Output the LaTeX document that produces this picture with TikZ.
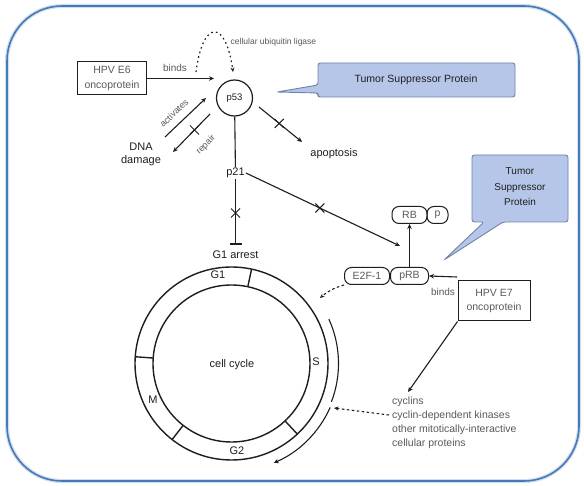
\documentclass[tikz,border=0pt]{standalone}
\usepackage{fontspec}
\setmainfont{Liberation Sans}
\usetikzlibrary{arrows.meta,calc}
\definecolor{frameblue}{RGB}{70,122,182}
\definecolor{callfill}{RGB}{182,198,232}
\definecolor{calldraw}{RGB}{112,130,172}
\definecolor{ink}{RGB}{30,30,30}
\definecolor{soft}{RGB}{90,90,90}
\tikzset{
  line/.style={draw=ink, line width=1.1pt},
  arr/.style={line, -{Stealth[length=5pt,width=4.5pt]}},
  dotarr/.style={draw=ink, line width=1.2pt, dash pattern=on 1.6pt off 3.2pt, -{Stealth[length=4.5pt,width=4pt]}},
  dasharr/.style={draw=ink, line width=1.1pt, dash pattern=on 2.5pt off 2.5pt, -{Stealth[length=4.5pt,width=4pt]}},
  ring/.style={draw=ink, line width=1.4pt},
  box/.style={draw=ink, line width=1pt, align=center, text=soft, inner sep=0pt, font=\fontsize{10.5}{14.5}\selectfont},
  pill/.style={draw=ink, line width=1pt, rounded corners=7pt, minimum height=17pt, inner sep=0pt, text=soft, font=\fontsize{10.5}{12}\selectfont},
  mainlab/.style={text=ink, inner sep=1pt, font=\fontsize{11}{13}\selectfont},
  lab/.style={text=soft, inner sep=1.5pt, font=\fontsize{10}{12}\selectfont},
  callout/.style={fill=callfill, draw=calldraw, line width=0.9pt, rounded corners=2.5pt},
  xmark/.pic={\draw[ink, line width=1pt] (-4.5,-4.5) -- (4.5,4.5) (-4.5,4.5) -- (4.5,-4.5);}
}
\begin{document}
\begin{tikzpicture}[x=1pt,y=-1pt]
\useasboundingbox (0,0) rectangle (584,486);
\fill[white] (0,0) rectangle (584,486);
% frame
\draw[frameblue!25, line width=4pt, rounded corners=55pt] (7,6) rectangle (579,481);
\draw[frameblue, line width=1.6pt, rounded corners=55pt] (7,6) rectangle (579,481);

% callouts
\draw[callout] (318,63) -- (515,63) -- (515,97) -- (318,97) -- (318,93) -- (277,92) -- (318,85) -- cycle;
\node[text=ink, font=\fontsize{10.5}{12}\selectfont] (tsp1) at (416,80) {Tumor Suppressor Protein};
\draw[callout] (472,155) -- (568,155) -- (568,222) -- (503,222) -- (444,260) -- (484,222) -- (472,222) -- cycle;
\node[text=ink, align=center, font=\fontsize{10}{15.5}\selectfont] (tsp2) at (520,187) {Tumor\\Suppressor\\Protein};

% p53 area
\node[box, minimum width=69pt, minimum height=33pt] (e6) at (112,78.5) {HPV E6\\oncoprotein};
\node[circle, draw=ink, line width=1.2pt, minimum size=36pt, inner sep=0pt, text=ink, font=\fontsize{9.5}{11}\selectfont] (p53) at (234.5,98) {p53};
\coordinate (bindsEnd) at (214,78.5);
\draw[arr] (e6.east) -- (bindsEnd);
\node[lab] (binds1) at (175,68) {binds};
\coordinate (ubS) at (196,72);
\coordinate (ubE) at (233,72);
\draw[dotarr] (ubS) .. controls (203,18) and (226,20) .. (ubE);
\node[lab, anchor=west, font=\fontsize{8.5}{10}\selectfont] (ubl) at (229,42) {cellular ubiquitin ligase};

\node[mainlab, align=center] (dna) at (141,154) {DNA\\damage};
\coordinate (actS) at (165,137);
\coordinate (actE) at (206,98);
\draw[arr] (actS) -- (actE);
\node[lab, rotate=44, font=\fontsize{9}{11}\selectfont] (actl) at (174,113) {activates};
\coordinate (repS) at (210,114);
\coordinate (repE) at (173,152);
\draw[arr] (repS) -- (repE);
\node[lab, rotate=46, font=\fontsize{9}{11}\selectfont] (repl) at (206,145) {repair};
\pic at ($(repS)!0.42!(repE)$) {xmark};

\coordinate (apS) at (259,107);
\coordinate (apE) at (302,142);
\draw[arr] (apS) -- (apE);
\pic at ($(apS)!0.47!(apE)$) {xmark};
\node[mainlab] (apo) at (334,154) {apoptosis};

\node[mainlab] (p21) at (235.5,173) {p21};
\draw[line] (p53) -- (p21);
\node[mainlab] (g1a) at (235.5,255) {G1 arrest};
\coordinate (g1bar) at (235.5,244);
\draw[line] (p21) -- (g1bar);
\draw[line] ($(g1bar)+(-6,0)$) -- ($(g1bar)+(6,0)$);
\pic at (235.5,213) {xmark};
\coordinate (rbArr) at (400,246);
\draw[arr] (p21.east) -- (rbArr);
\pic at ($(p21.east)!0.48!(rbArr)$) {xmark};

% RB complex
\node[pill, minimum width=35pt] (rb) at (409.5,215) {RB};
\node[pill, minimum width=21pt] (pp) at (437.5,215) {p};
\node[pill, minimum width=45pt] (e2f) at (367,276) {E2F-1};
\node[pill, minimum width=38pt] (prb) at (409.5,276) {pRB};
\draw[arr] (prb) -- (rb);
\node[box, minimum width=72pt, minimum height=40pt] (e7) at (494,301) {HPV E7\\oncoprotein};
\coordinate (e7out) at (457,277);
\draw[arr] (e7out) -- (prb.east);
\node[lab] (binds2) at (443,292) {binds};
\coordinate (e2fTip) at (320,298);
\draw[dasharr] (e2f.south west) to[bend right=12] (e2fTip);

% cyclins
\coordinate (cycTip) at (408,392);
\draw[arr] (e7.south west) -- (cycTip);
\node[anchor=north west, align=left, text=soft, inner sep=0pt, font=\fontsize{10.5}{14}\selectfont] (cyc) at (392,397) {cyclins\\cyclin-dependent kinases\\other mitotically-interactive\\cellular proteins};
\coordinate (cycS) at (389,415);
\coordinate (cycE) at (334,408);
\draw[dasharr] (cycS) -- (cycE);

% cell cycle
\coordinate (cc) at (231.5,363.5);
\draw[ring] (cc) circle[radius=96.5];
\draw[ring] (cc) circle[radius=78.5];
\foreach \a in {-78,-176,128,47} \draw[ring] ($(cc)+(\a:78.5)$) -- ($(cc)+(\a:96.5)$);
\node[mainlab] (lg1) at (218,275) {G1};
\node[mainlab] (ls) at (316,362) {S};
\node[mainlab] (lm) at (153,400) {M};
\node[mainlab] (lg2) at (237,451) {G2};
\node[mainlab] (lcc) at (232,365) {cell cycle};
\draw[line] ($(cc)+(-24.5:107)$) arc[start angle=-24.5, end angle=21, radius=107];
\draw[arr] ($(cc)+(24:108)$) arc[start angle=24, end angle=67, radius=108];
\end{tikzpicture}
\end{document}
